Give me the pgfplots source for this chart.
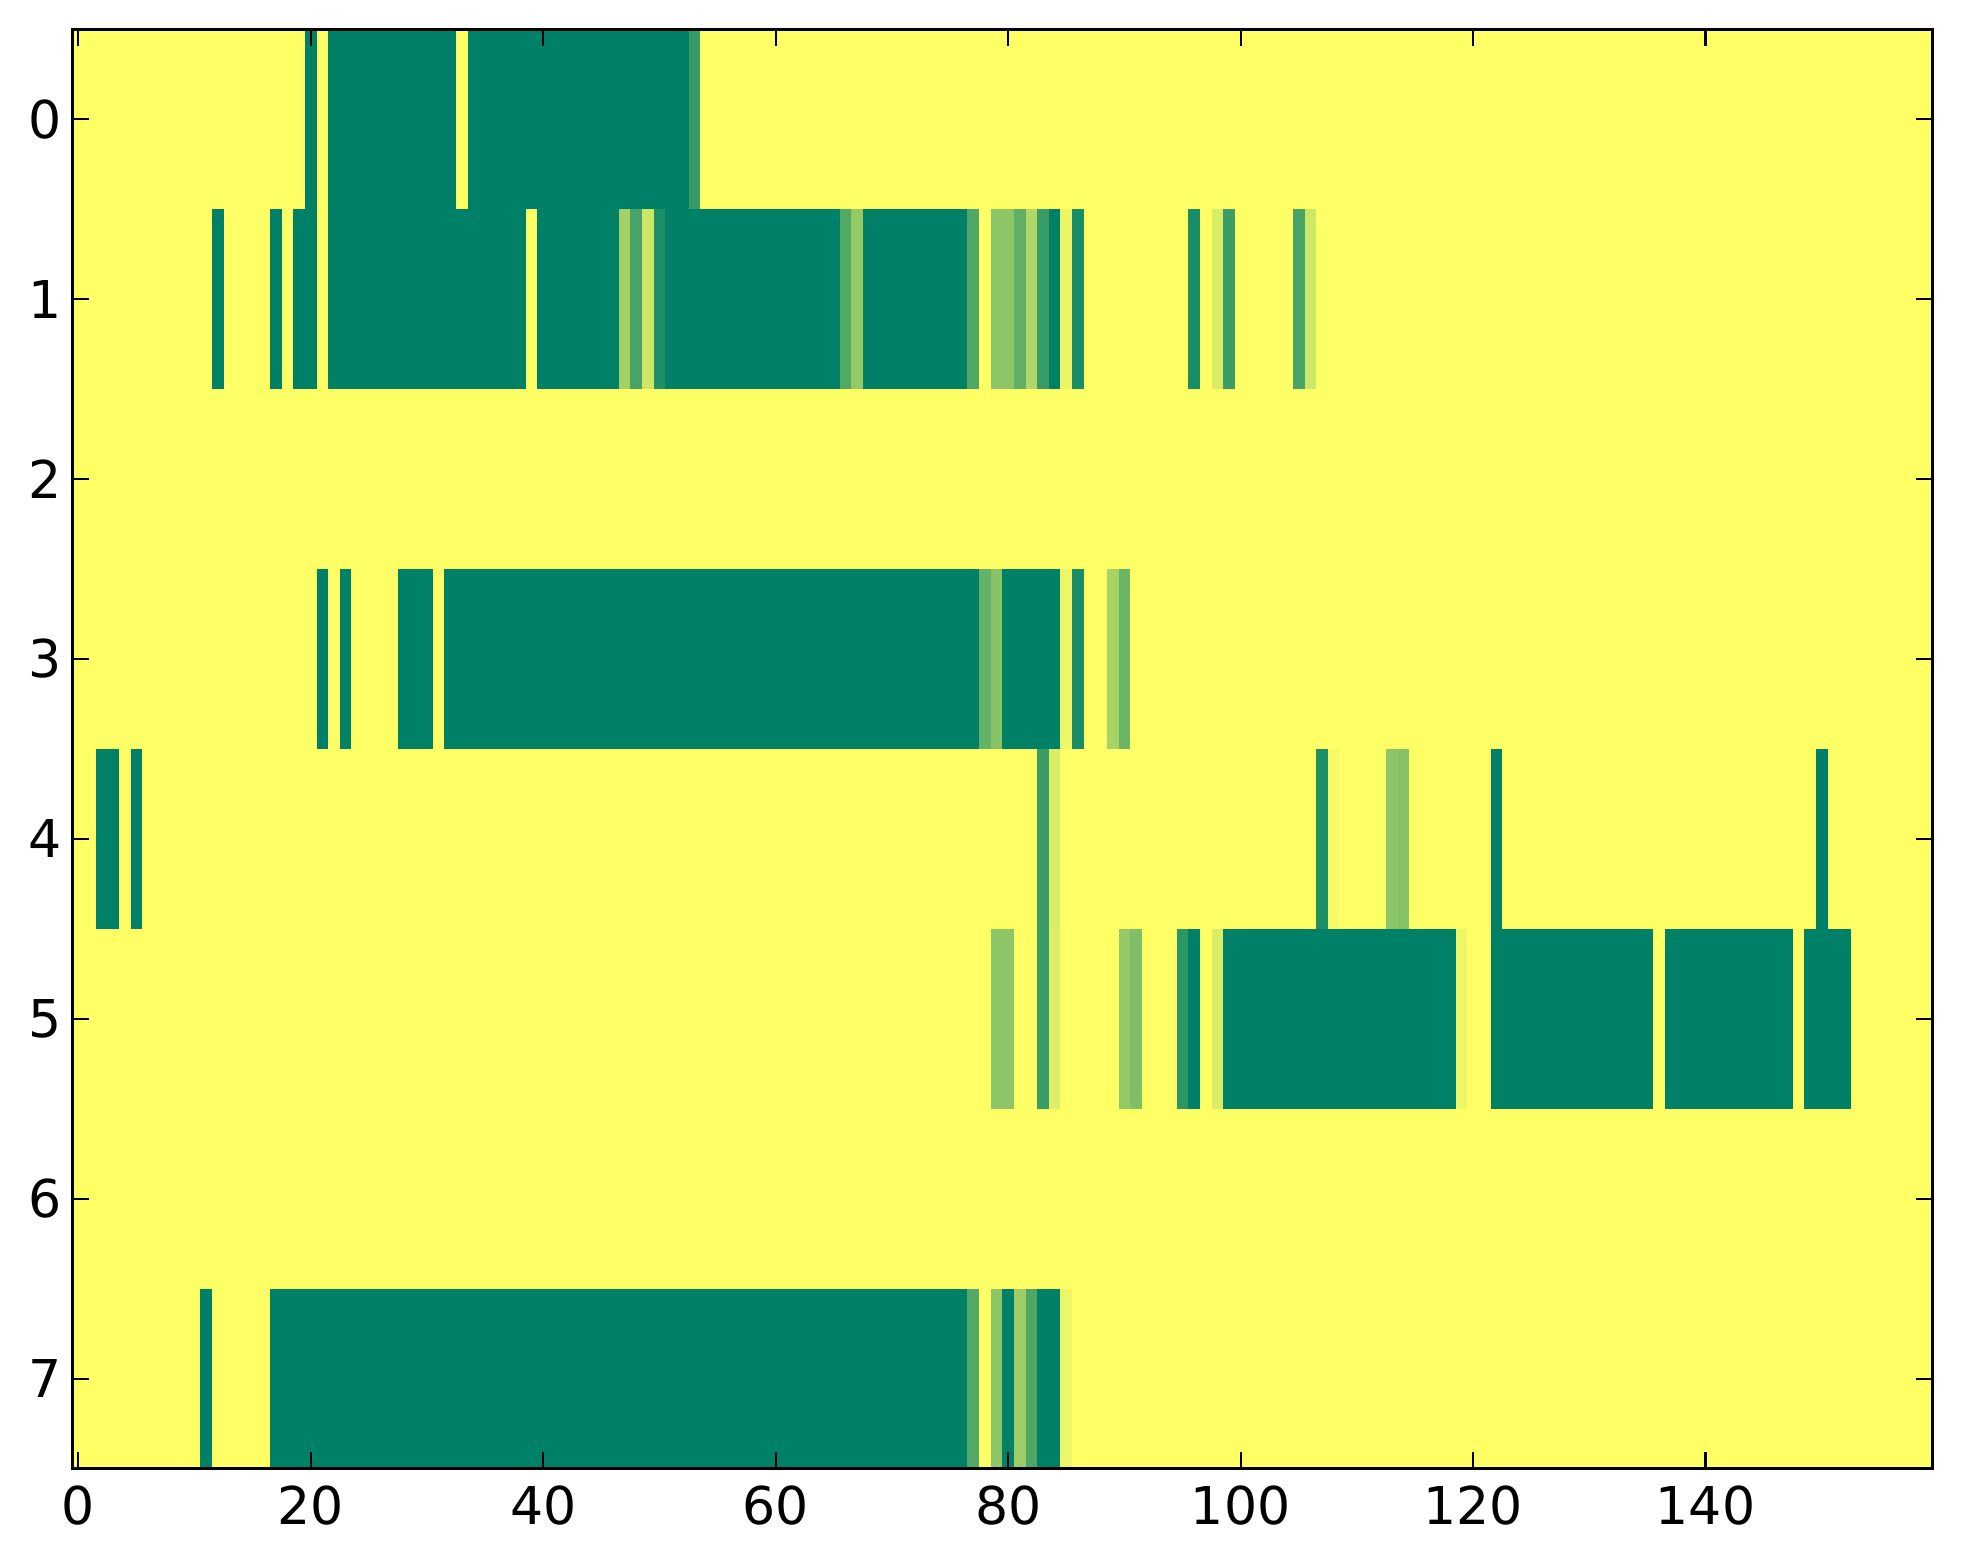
\documentclass[border=0pt]{standalone}
\usepackage{pgfplots}
\pgfplotsset{compat=1.18}
\usepackage{fontspec}
\setmainfont{DejaVu Sans}
\definecolor{sg}{RGB}{0,128,102}
\definecolor{sy}{RGB}{255,255,102}
% \cell{row}{first column}{last column}{value in percent (0 = green, 100 = yellow)}
\newcommand{\cell}[4]{%
  \pgfmathsetmacro\xa{#2-0.5}\pgfmathsetmacro\xb{#3+0.5}%
  \pgfmathsetmacro\ya{#1-0.5}\pgfmathsetmacro\yb{#1+0.5}%
  \edef\tmp{\noexpand\addplot[draw=none,mark=none,fill=sy!#4!sg,forget plot] coordinates {(\xa,\ya) (\xb,\ya) (\xb,\yb) (\xa,\yb)};}\tmp}
\begin{document}
\begin{tikzpicture}
\begin{axis}[
  at={(0,0)}, anchor=south west,
  scale only axis, width=446.2pt, height=345.4pt,
  xmin=-0.5, xmax=159.5, ymin=-0.5, ymax=7.5,
  y dir=reverse,
  xtick={0,20,40,60,80,100,120,140},
  ytick={0,1,2,3,4,5,6,7},
  tick align=inside, major tick length=4pt,
  xtick pos=both, ytick pos=both,
  minor tick num=0,
  axis line style={line width=0.65pt},
  every tick/.style={black,line width=0.5pt},
  tick label style={font=\fontsize{12.5}{15}\selectfont},
  /pgf/number format/assume math mode=true,
  xticklabel style={yshift=-0.6pt},
  yticklabel style={xshift=1pt},
  axis on top,
  clip=true,
]
% background: every cell of value 1 (yellow)
\cell{0}{0}{159}{100}\cell{1}{0}{159}{100}\cell{2}{0}{159}{100}\cell{3}{0}{159}{100}
\cell{4}{0}{159}{100}\cell{5}{0}{159}{100}\cell{6}{0}{159}{100}\cell{7}{0}{159}{100}
% row 0
\cell{0}{20}{20}{0}\cell{0}{22}{32}{0}\cell{0}{34}{52}{0}\cell{0}{53}{53}{21}
% row 1
\cell{1}{12}{12}{0}\cell{1}{17}{17}{0}\cell{1}{19}{20}{0}\cell{1}{22}{38}{0}
\cell{1}{40}{46}{0}\cell{1}{47}{47}{64}\cell{1}{48}{48}{28}\cell{1}{49}{49}{80}
\cell{1}{50}{50}{12}\cell{1}{51}{65}{0}\cell{1}{66}{66}{32}\cell{1}{67}{67}{58}
\cell{1}{68}{76}{0}\cell{1}{77}{77}{31}\cell{1}{79}{80}{55}\cell{1}{81}{81}{38}
\cell{1}{82}{82}{69}\cell{1}{83}{83}{22}\cell{1}{84}{84}{0}\cell{1}{85}{85}{92}
\cell{1}{86}{86}{10}\cell{1}{96}{96}{10}\cell{1}{98}{98}{85}\cell{1}{99}{99}{23}
\cell{1}{105}{105}{28}\cell{1}{106}{106}{80}
% row 3
\cell{3}{21}{21}{0}\cell{3}{23}{23}{0}\cell{3}{28}{30}{0}\cell{3}{32}{77}{0}
\cell{3}{78}{78}{39}\cell{3}{79}{79}{53}\cell{3}{80}{84}{0}\cell{3}{85}{85}{93}
\cell{3}{86}{86}{10}\cell{3}{89}{89}{65}\cell{3}{90}{90}{42}
% row 4
\cell{4}{2}{3}{0}\cell{4}{5}{5}{0}\cell{4}{83}{83}{23}\cell{4}{84}{84}{86}
\cell{4}{107}{107}{12}\cell{4}{108}{108}{96}\cell{4}{113}{113}{55}\cell{4}{114}{114}{52}
\cell{4}{122}{122}{0}\cell{4}{150}{150}{0}
% row 5
\cell{5}{79}{80}{55}\cell{5}{83}{83}{23}\cell{5}{84}{84}{87}\cell{5}{90}{90}{58}
\cell{5}{91}{91}{50}\cell{5}{95}{95}{17}\cell{5}{96}{96}{0}\cell{5}{98}{98}{86}
\cell{5}{99}{118}{0}\cell{5}{119}{119}{93}\cell{5}{122}{135}{0}\cell{5}{137}{147}{0}
\cell{5}{149}{152}{0}
% row 7
\cell{7}{11}{11}{0}\cell{7}{17}{76}{0}\cell{7}{77}{77}{32}\cell{7}{79}{79}{55}
\cell{7}{80}{80}{0}\cell{7}{81}{81}{61}\cell{7}{82}{82}{31}\cell{7}{83}{84}{0}
\cell{7}{85}{85}{93}
\end{axis}
\pgfresetboundingbox
\path[use as bounding box] (-17.4pt,-23pt) rectangle (453.6pt,352.4pt);
\end{tikzpicture}
\end{document}
